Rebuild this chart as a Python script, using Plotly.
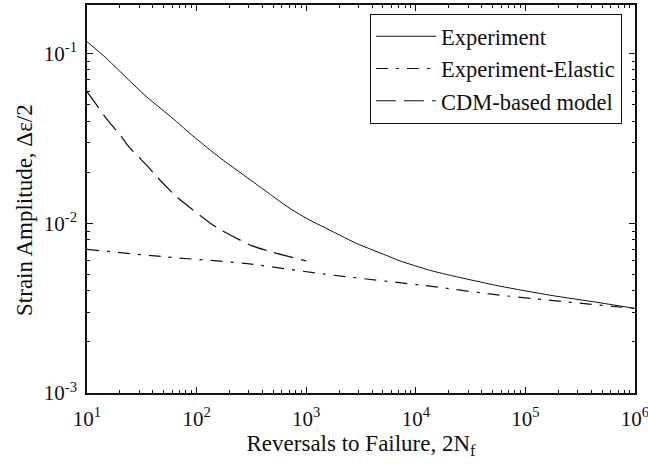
import plotly.graph_objects as go

# Strain-life data: reversals to failure (2Nf) vs strain amplitude
exp_reversals = [10, 15, 25, 35, 66, 87, 152, 202, 378, 711, 1084, 1432,
                 2891, 5821, 7178, 13490, 20510, 58610, 167500, 479700, 1000000]
exp_strain = [0.1175, 0.0938, 0.0682, 0.0556, 0.0396, 0.0338, 0.0252, 0.0220,
              0.0164, 0.01222, 0.01042, 0.00953, 0.00760, 0.00634, 0.00600,
              0.00528, 0.00494, 0.00426, 0.00377, 0.00340, 0.00315]

elastic_reversals = [10, 51.5, 277, 1486, 13490, 58610, 1000000]
elastic_strain = [0.00702, 0.00634, 0.00580, 0.00501, 0.00426, 0.00377, 0.00315]

cdm_reversals = [10, 12.7, 14.6, 20.7, 23.8, 36.2, 43.3, 65.8, 81.3, 132,
                 164, 258, 318, 501, 618, 1000]
cdm_strain = [0.0596, 0.0482, 0.0424, 0.0323, 0.0285, 0.0215, 0.0188, 0.0143,
              0.0128, 0.01005, 0.00919, 0.00787, 0.00738, 0.00673, 0.00649,
              0.00600]

x_tick_vals = [1e1, 1e2, 1e3, 1e4, 1e5, 1e6]
x_tick_text = ["10<sup>1</sup>", "10<sup>2</sup>", "10<sup>3</sup>",
               "10<sup>4</sup>", "10<sup>5</sup>", "10<sup>6</sup>"]
y_tick_vals = [1e-3, 1e-2, 1e-1]
y_tick_text = ["10<sup>-3</sup>", "10<sup>-2</sup>", "10<sup>-1</sup>"]

# minor tick positions: 2..9 within each decade
x_minor = [m * 10 ** e for e in range(1, 6) for m in range(2, 10)]
y_minor = [m * 10.0 ** e for e in range(-3, 0) for m in range(2, 10)]

FONT = "Liberation Serif"
INK = "#111111"

fig = go.Figure()
fig.add_trace(go.Scatter(x=exp_reversals, y=exp_strain, mode="lines",
                         name="Experiment",
                         line=dict(color=INK, width=1, dash="solid",
                                   shape="spline", smoothing=0.6)))
fig.add_trace(go.Scatter(x=elastic_reversals, y=elastic_strain, mode="lines",
                         name="Experiment-Elastic",
                         line=dict(color=INK, width=1.2, dash="12px,8px,3px,8px",
                                   shape="spline", smoothing=0.6)))
fig.add_trace(go.Scatter(x=cdm_reversals, y=cdm_strain, mode="lines",
                         name="CDM-based model",
                         line=dict(color=INK, width=1.2, dash="20px,8px",
                                   shape="spline", smoothing=0.6)))

axis_common = dict(
    type="log",
    automargin=False,
    showgrid=False,
    zeroline=False,
    showline=True,
    linecolor=INK,
    linewidth=1.5,
    mirror="ticks",
    ticks="inside",
    ticklen=6,
    tickwidth=1.2,
    tickcolor=INK,
    ticklabeloverflow="allow",
    tickfont=dict(family=FONT, size=21, color=INK),
)

fig.update_layout(
    width=648, height=465,
    margin=dict(l=87, r=13, t=5, b=72, autoexpand=False),
    paper_bgcolor="white",
    plot_bgcolor="white",
    font=dict(family=FONT, color=INK),
    xaxis=dict(axis_common, range=[1, 6], tickvals=x_tick_vals,
               ticktext=x_tick_text, ticklabelstandoff=6,
               minor=dict(ticks="inside", ticklen=3, tickwidth=1,
                          tickcolor=INK, tickvals=x_minor, showgrid=False),
               title=dict(text="Reversals to Failure, 2N<sub>f</sub>",
                          font=dict(family=FONT, size=23, color=INK),
                          standoff=4)),
    yaxis=dict(axis_common, range=[-3, -0.714], tickvals=y_tick_vals,
               ticktext=y_tick_text, ticklabelstandoff=4,
               minor=dict(ticks="inside", ticklen=3, tickwidth=1,
                          tickcolor=INK, tickvals=y_minor, showgrid=False)),
    annotations=[dict(text="Strain Amplitude, \u0394\u03b5/2", textangle=-90,
                      xref="paper", yref="paper", x=-0.113, y=0.472,
                      xanchor="center", yanchor="middle", showarrow=False,
                      font=dict(family=FONT, size=23, color=INK))],
    legend=dict(x=0.516, y=0.977, xanchor="left", yanchor="top",
                bgcolor="white", bordercolor=INK, borderwidth=1.2,
                font=dict(family=FONT, size=22.5, color=INK),
                itemwidth=60, tracegroupgap=0),
    showlegend=True,
)

fig.write_html("out.html")
